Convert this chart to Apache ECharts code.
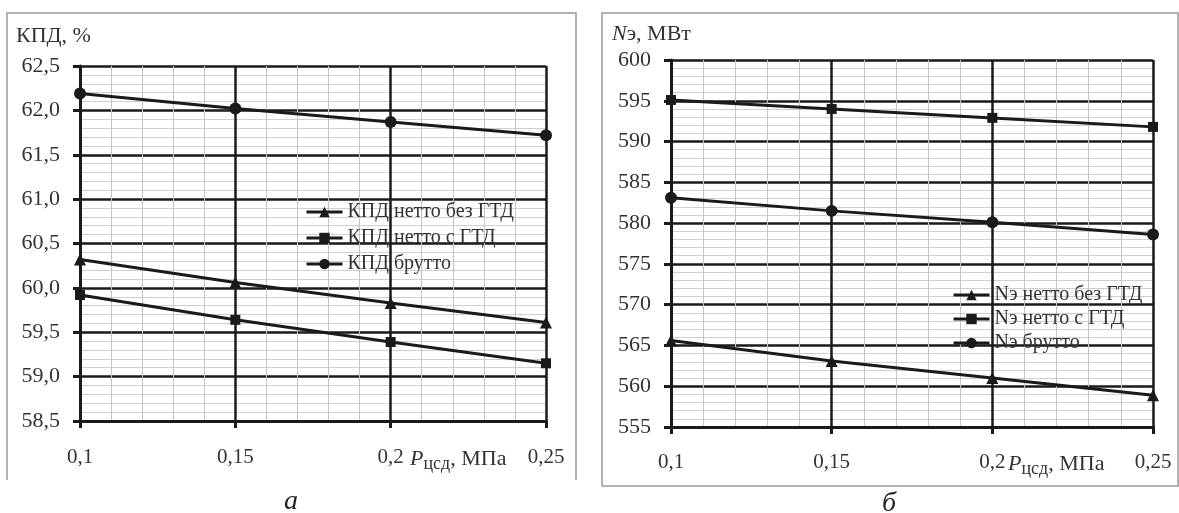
<!DOCTYPE html>
<html>
<head>
<meta charset="utf-8">
<script src="https://cdn.jsdelivr.net/npm/echarts@6/dist/echarts.min.js"></script>
<style>
html,body{margin:0;padding:0;background:#fff;}
#c{width:1179px;height:513px;}
</style>
</head>
<body>
<div id="c"></div>
<script>
// ---- data ----
var pressure = [0.1, 0.15, 0.2, 0.25];               // P_цсд, МПа
var effNetNoGTD = [60.32, 60.06, 59.83, 59.61];       // КПД нетто без ГТД
var effNetGTD   = [59.92, 59.64, 59.39, 59.15];       // КПД нетто с ГТД
var effGross    = [62.19, 62.02, 61.87, 61.72];       // КПД брутто
var powNetNoGTD = [565.6, 563.1, 561.0, 558.9];       // Nэ нетто без ГТД
var powNetGTD   = [595.1, 594.0, 592.9, 591.8];       // Nэ нетто с ГТД
var powGross    = [583.1, 581.5, 580.1, 578.6];       // Nэ брутто
var namesLeft  = ['КПД нетто без ГТД', 'КПД нетто с ГТД', 'КПД брутто'];
var namesRight = ['Nэ нетто без ГТД', 'Nэ нетто с ГТД', 'Nэ брутто'];
var symbols = ['triangle', 'rect', 'circle'];
var symbolSizes = [12, 10, 12];

function pairs(ys){ return pressure.map(function(x,i){ return [x, ys[i]]; }); }

var FONT = '"Liberation Serif", "Times New Roman", serif';
var INK = '#1a1a1a';

function xAxisCfg(gi, margin){
  return {
    type:'value', gridIndex:gi, min:0.1, max:0.25, interval:0.05,
    axisLine:{show:true, onZero:false, lineStyle:{color:INK, width:3}},
    axisTick:{show:true, length:7, lineStyle:{color:INK, width:3}},
    axisLabel:{color:'#333', fontFamily:FONT, fontSize:21, margin:margin,
      formatter:function(v){ return String(+v.toFixed(2)).replace('.', ','); }},
    splitLine:{show:true, lineStyle:{color:INK, width:2.5}},
    minorTick:{show:false, splitNumber:5},
    minorSplitLine:{show:true, lineStyle:{color:'#c4c4c4', width:1}}
  };
}
function yAxisCfg(gi, min, max, interval, fmt){
  return {
    type:'value', gridIndex:gi, min:min, max:max, interval:interval,
    axisLine:{show:true, onZero:false, lineStyle:{color:INK, width:3}},
    axisTick:{show:true, length:7, lineStyle:{color:INK, width:3}},
    axisLabel:{color:'#333', fontFamily:FONT, fontSize:22, margin:20, formatter:fmt},
    splitLine:{show:true, lineStyle:{color:INK, width:2.5}},
    minorTick:{show:false, splitNumber:5},
    minorSplitLine:{show:true, lineStyle:{color:'#cfcfcf', width:1}}
  };
}

var series = [];
[effNetNoGTD, effNetGTD, effGross].forEach(function(d,i){
  series.push({name:namesLeft[i], type:'line', xAxisIndex:0, yAxisIndex:0, data:pairs(d),
    symbol:symbols[i], symbolSize:symbolSizes[i], showSymbol:true,
    lineStyle:{color:INK, width:3}, itemStyle:{color:INK}, animation:false, z:5});
});
[powNetNoGTD, powNetGTD, powGross].forEach(function(d,i){
  series.push({name:namesRight[i], type:'line', xAxisIndex:1, yAxisIndex:1, data:pairs(d),
    symbol:symbols[i], symbolSize:symbolSizes[i], showSymbol:true,
    lineStyle:{color:INK, width:3}, itemStyle:{color:INK}, animation:false, z:5});
});

function axisNameText(x, y){
  return {type:'text', x:x, y:y, z:10, style:{
    text:'{p|P}{s|цсд}{n|, МПа}', textVerticalAlign:'middle', fill:'#333',
    rich:{
      p:{fontFamily:FONT, fontSize:22, fontStyle:'italic', fill:'#333', lineHeight:30},
      s:{fontFamily:FONT, fontSize:18, fill:'#333', lineHeight:30, padding:[10,0,0,0]},
      n:{fontFamily:FONT, fontSize:22, fill:'#333', lineHeight:30}
    }}};
}

var legendBase = {orient:'vertical', itemWidth:36, itemHeight:13,
  lineStyle:{width:3, color:INK}, itemStyle:{color:INK},
  textStyle:{color:'#333', fontFamily:FONT, fontSize:20, lineHeight:20}};

var option = {
  backgroundColor:'#fff',
  animation:false,
  grid:[
    {left:80, top:66, width:466, height:355, containLabel:false},
    {left:671, top:60, width:482, height:367, containLabel:false}
  ],
  xAxis:[xAxisCfg(0, 26), xAxisCfg(1, 25)],
  yAxis:[
    yAxisCfg(0, 58.5, 62.5, 0.5, function(v){ return v.toFixed(1).replace('.', ','); }),
    yAxisCfg(1, 555, 600, 5, function(v){ return String(Math.round(v)); })
  ],
  legend:[
    Object.assign({data:namesLeft, left:300, top:197, itemGap:6}, legendBase),
    Object.assign({data:namesRight, left:947, top:280, itemGap:4}, legendBase)
  ],
  series:series,
  graphic:[
    {type:'polyline', z:-1, shape:{points:[[7,480],[7,13],[576,13],[576,480]]}, style:{stroke:'#9a9a9a', lineWidth:1.5, fill:null}},
    {type:'rect', z:-1, shape:{x:602, y:13, width:576, height:473}, style:{stroke:'#9a9a9a', lineWidth:1.5, fill:null}},
    {type:'text', x:16, y:36, style:{text:'КПД, %', font:'22px ' + FONT, fill:'#333', textVerticalAlign:'middle'}},
    {type:'text', x:612, y:34, style:{text:'{i|N}{r|э, МВт}', textVerticalAlign:'middle', rich:{
      i:{fontFamily:FONT, fontSize:22, fontStyle:'italic', fill:'#333'},
      r:{fontFamily:FONT, fontSize:22, fill:'#333'}}}},
    axisNameText(410, 459),
    axisNameText(1008, 464),
    {type:'text', x:284, y:502, style:{text:'а', font:'italic 28px ' + FONT, fill:'#222', textVerticalAlign:'middle'}},
    {type:'text', x:882, y:504, style:{text:'б', font:'italic 28px ' + FONT, fill:'#222', textVerticalAlign:'middle'}}
  ]
};

var chart = echarts.init(document.getElementById('c'), null, {renderer:'canvas'});
chart.setOption(option);
</script>
</body>
</html>
